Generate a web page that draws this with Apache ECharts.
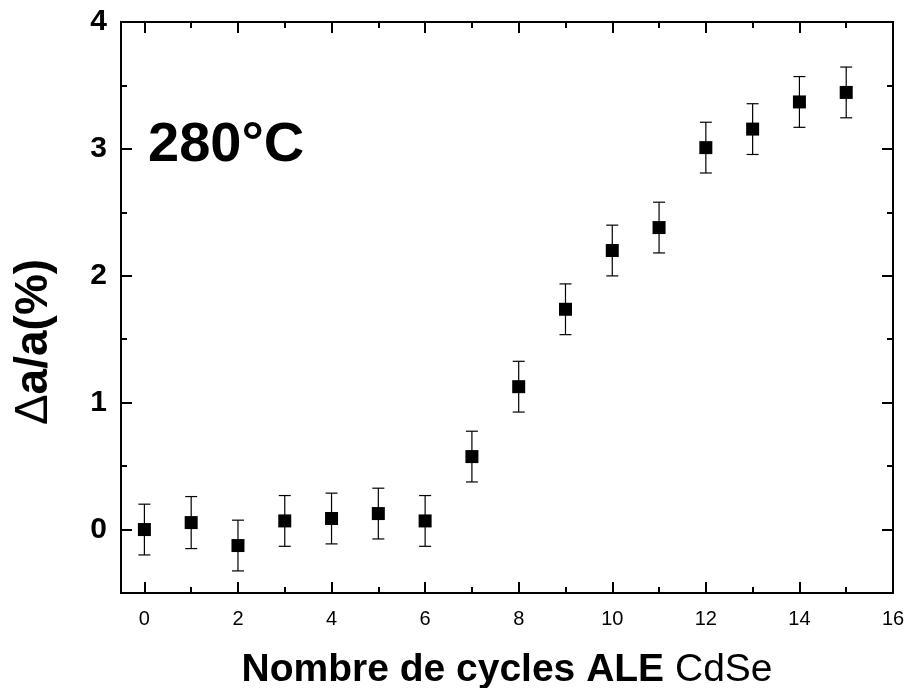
<!DOCTYPE html>
<html>
<head>
<meta charset="utf-8">
<script src="https://cdn.jsdelivr.net/npm/echarts@6/dist/echarts.min.js"></script>
<style>html,body{margin:0;padding:0;background:#fff;}#c{width:906px;height:688px;}</style>
</head>
<body>
<div id="c"></div>
<script>
var cycles = [0, 1, 2, 3, 4, 5, 6, 7, 8, 9, 10, 11, 12, 13, 14, 15];
var values = [0, 0.055, -0.126, 0.068, 0.087, 0.126, 0.068, 0.575, 1.126, 1.736, 2.199, 2.38, 3.01, 3.156, 3.37, 3.445];
var errors = [0.2, 0.205, 0.2, 0.2, 0.2, 0.2, 0.2, 0.2, 0.2, 0.2, 0.2, 0.2, 0.2, 0.2, 0.2, 0.2];
var xMajorTicks = [0, 2, 4, 6, 8, 10, 12, 14, 16];
var xMinorTicks = [1, 3, 5, 7, 9, 11, 13, 15];
var yMajorTicks = [0, 1, 2, 3, 4];
var yMinorTicks = [-0.5, 0.5, 1.5, 2.5, 3.5];
var annotation = '280°C';

var pts = cycles.map(function (c, i) { return [c, values[i], errors[i]]; });
var FONT = '"Liberation Sans", Arial, sans-serif';
var lineStyle = { color: '#000', width: 2 };

function xAx(pos, ticks, len, labels, extra) {
  var a = {
    type: 'value', position: pos, min: -0.5, max: 16,
    axisLine: { show: true, onZero: false, lineStyle: lineStyle },
    axisTick: { show: true, inside: true, length: len, customValues: ticks, lineStyle: lineStyle },
    axisLabel: labels ? { show: true, customValues: xMajorTicks, margin: 16, fontSize: 20, color: '#000', fontFamily: FONT } : { show: false },
    splitLine: { show: false }
  };
  return Object.assign(a, extra || {});
}
function yAx(pos, ticks, len, labels, extra) {
  var a = {
    type: 'value', position: pos, min: -0.5, max: 4,
    axisLine: { show: true, onZero: false, lineStyle: lineStyle },
    axisTick: { show: true, inside: true, length: len, customValues: ticks, lineStyle: lineStyle },
    axisLabel: labels ? { show: true, customValues: yMajorTicks, margin: 14, fontSize: 30, fontWeight: 'bold', color: '#000', fontFamily: FONT } : { show: false },
    splitLine: { show: false }
  };
  return Object.assign(a, extra || {});
}

var chart = echarts.init(document.getElementById('c'));
chart.setOption({
  animation: false,
  backgroundColor: '#fff',
  grid: { left: 121, right: 13, top: 22, bottom: 95, containLabel: false, outerBoundsMode: 'none' },
  xAxis: [
    xAx('bottom', xMajorTicks, 11, true, {
      name: '{b|Nombre de cycles ALE }{r|CdSe}',
      nameLocation: 'middle', nameGap: 58,
      nameTextStyle: {
        rich: {
          b: { fontSize: 39, fontWeight: 'bold', color: '#000', fontFamily: FONT },
          r: { fontSize: 39, fontWeight: 'normal', color: '#000', fontFamily: FONT }
        }
      }
    }),
    xAx('bottom', xMinorTicks, 6, false),
    xAx('top', xMajorTicks, 11, false),
    xAx('top', xMinorTicks, 6, false)
  ],
  yAxis: [
    yAx('left', yMajorTicks, 11, true),
    yAx('left', yMinorTicks, 6, false),
    yAx('right', yMajorTicks, 11, false),
    yAx('right', yMinorTicks, 6, false)
  ],
  graphic: [
    {
      type: 'text', left: 148, top: 118,
      style: { text: annotation, fontSize: 56, fontWeight: 'bold', fill: '#000', fontFamily: FONT }
    },
    {
      type: 'text', x: 34, y: 342, rotation: Math.PI / 2,
      style: {
        text: '{d|Δ}{b|a/a(%)}', align: 'center', verticalAlign: 'middle',
        rich: {
          d: { fontSize: 46, fontWeight: 'normal', fill: '#000', fontFamily: FONT },
          b: { fontSize: 46, fontWeight: 'bold', fill: '#000', fontFamily: FONT }
        }
      }
    }
  ],
  series: [
    {
      type: 'custom', xAxisIndex: 0, yAxisIndex: 0, data: pts, z: 2,
      renderItem: function (params, api) {
        var x = api.value(0), y = api.value(1), e = api.value(2);
        var t = api.coord([x, y + e]);
        var b = api.coord([x, y - e]);
        var w = 6;
        var st = { stroke: '#000', lineWidth: 1.2 };
        return {
          type: 'group',
          children: [
            { type: 'line', shape: { x1: t[0], y1: t[1], x2: b[0], y2: b[1] }, style: st },
            { type: 'line', shape: { x1: t[0] - w, y1: t[1], x2: t[0] + w, y2: t[1] }, style: st },
            { type: 'line', shape: { x1: b[0] - w, y1: b[1], x2: b[0] + w, y2: b[1] }, style: st }
          ]
        };
      },
      encode: { x: 0, y: [1] }
    },
    {
      type: 'scatter', xAxisIndex: 0, yAxisIndex: 0, z: 3,
      data: pts.map(function (p) { return [p[0], p[1]]; }),
      symbol: 'rect', symbolSize: 13,
      itemStyle: { color: '#000', opacity: 1 }
    }
  ]
});
</script>
</body>
</html>
